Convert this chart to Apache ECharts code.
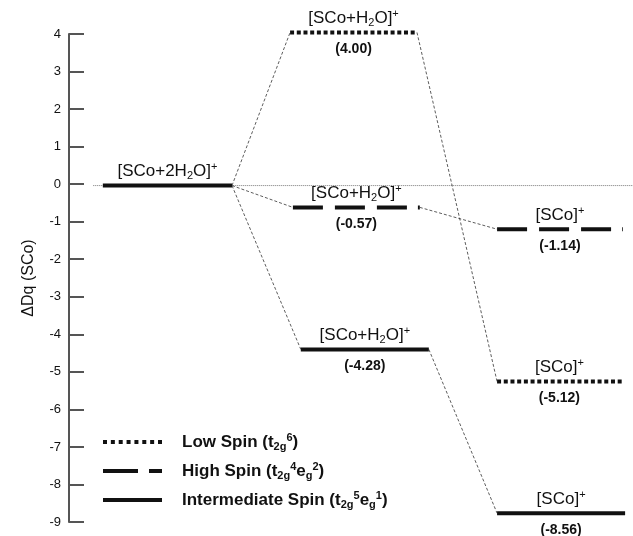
<!DOCTYPE html>
<html>
<head>
<meta charset="utf-8">
<title>ΔDq (SCo)</title>
<script src="https://cdn.jsdelivr.net/npm/echarts@6/dist/echarts.min.js"></script>
<style>
  html, body { margin: 0; padding: 0; background: #fff; }
  #chart { width: 633px; height: 536px; }
</style>
</head>
<body>
<div id="chart"></div>
<script>
  // energy levels
  const levelNames = [
    '[SCo+2H{sub|2}O]{sup|+}',
    '[SCo+H{sub|2}O]{sup|+}',
    '[SCo+H{sub|2}O]{sup|+}',
    '[SCo+H{sub|2}O]{sup|+}',
    '[SCo]{sup|+}',
    '[SCo]{sup|+}',
    '[SCo]{sup|+}',
  ];
  const levelValues = [0, 4.0, -0.57, -4.28, -1.14, -5.12, -8.56];
  const levelShowValue = [false, true, true, true, true, true, true];
  // 0 = low spin, 1 = high spin, 2 = intermediate spin
  const levelSpin = [2, 0, 1, 2, 1, 0, 2];
  // horizontal extent of each level on the 0..100 column scale
  const levelStart = [6.0, 39.2, 39.7, 41.1, 75.9, 75.9, 75.9];
  const levelEnd = [28.9, 61.7, 62.2, 63.8, 98.2, 98.0, 98.6];
  // [from level, to level]
  const links = [[0, 1], [0, 2], [0, 3], [1, 5], [2, 4], [3, 6]];
  const zeroLine = [4.3, 100];

  const spinNames = ['Low Spin', 'High Spin', 'Intermediate Spin'];
  const spinConfigs = ['{sub|2g}{sup|6}', '{sub|2g}{sup|4}e{sub|g}{sup|2}', '{sub|2g}{sup|5}e{sub|g}{sup|1}'];

  // the levels are drawn on a hidden axis: the drawing is not quite to the printed scale
  const levelAxisMin = -8.79;
  const levelAxisMax = 3.96;

  const FONT = '"Liberation Sans", Arial, sans-serif';
  const INK = '#111';

  const spinDash = [[4, 2.7], [30, 12, 30, 12, 30, 11, 3, 200], null];

  const richNormal = {
    sub: { fontSize: 11, fontFamily: FONT, color: INK, lineHeight: 10, verticalAlign: 'bottom' },
    sup: { fontSize: 11, fontFamily: FONT, color: INK, lineHeight: 10, verticalAlign: 'top' },
  };
  const richBold = {
    sub: { fontSize: 11, fontWeight: 'bold', fontFamily: FONT, color: INK, lineHeight: 10, verticalAlign: 'bottom' },
    sup: { fontSize: 11, fontWeight: 'bold', fontFamily: FONT, color: INK, lineHeight: 10, verticalAlign: 'top' },
  };

  const renderLevel = (params, api) => {
    const i = api.value(3);
    const p0 = api.coord([api.value(0), api.value(2)]);
    const p1 = api.coord([api.value(1), api.value(2)]);
    const cx = (p0[0] + p1[0]) / 2;
    const dash = spinDash[levelSpin[i]];
    const children = [
      {
        type: 'line',
        shape: { x1: p0[0], y1: p0[1], x2: p1[0], y2: p1[1] },
        style: { stroke: INK, lineWidth: 4, lineDash: dash, lineCap: 'butt' },
      },
      {
        type: 'text',
        style: {
          text: levelNames[i],
          x: cx,
          y: p0[1] - 14,
          align: 'center',
          verticalAlign: 'middle',
          fontSize: 17,
          fontFamily: FONT,
          fill: INK,
          lineHeight: 20,
          rich: richNormal,
        },
      },
    ];
    if (levelShowValue[i]) {
      children.push({
        type: 'text',
        style: {
          text: '(' + levelValues[i].toFixed(2) + ')',
          x: cx,
          y: p0[1] + 17,
          align: 'center',
          verticalAlign: 'middle',
          fontSize: 14,
          fontWeight: 'bold',
          fontFamily: FONT,
          fill: INK,
        },
      });
    }
    return { type: 'group', children };
  };

  const renderLink = (params, api) => {
    const a = api.coord([api.value(0), api.value(1)]);
    const b = api.coord([api.value(2), api.value(3)]);
    return {
      type: 'line',
      shape: { x1: a[0], y1: a[1], x2: b[0], y2: b[1] },
      style: { stroke: '#333', lineWidth: 0.8, lineDash: [3, 2] },
    };
  };

  const levelSeries = spinNames.map((name, s) => ({
    name,
    type: 'custom',
    yAxisIndex: 1,
    renderItem: renderLevel,
    itemStyle: { color: INK },
    encode: { x: [0, 1], y: 2 },
    z: 3,
    data: levelValues
      .map((v, i) => [levelStart[i], levelEnd[i], v, i])
      .filter((d) => levelSpin[d[3]] === s),
  }));

  // legend icons
  let dots = '';
  for (let k = 0; k < 8; k++) dots += 'M' + (k * 7.86).toFixed(2) + ',0h4v4h-4z';
  const legendIcons = [
    'path://' + dots,
    'path://M0,0h35v4h-35zM46,0h13v4h-13z',
    'path://M0,0h59v4h-59z',
  ];

  const option = {
    animation: false,
    grid: { left: 69, right: 0, top: 34, bottom: 14 },
    xAxis: { type: 'value', min: 0, max: 100, show: false },
    yAxis: [
      {
        type: 'value',
        min: -9,
        max: 4,
        interval: 1,
        name: 'ΔDq (SCo)',
        nameLocation: 'middle',
        nameRotate: 90,
        nameGap: 32,
        nameTextStyle: { fontSize: 16, color: INK, fontFamily: FONT },
        axisLine: { show: true, onZero: false, lineStyle: { color: '#555', width: 2 } },
        axisTick: { show: true, inside: true, length: 15, lineStyle: { color: '#555', width: 2 } },
        axisLabel: { fontSize: 13, color: INK, margin: 8, fontFamily: FONT },
        splitLine: { show: false },
      },
      { type: 'value', min: levelAxisMin, max: levelAxisMax, show: false },
    ],
    legend: {
      orient: 'vertical',
      left: 103,
      top: 432,
      padding: 0,
      itemGap: 9,
      itemWidth: 59,
      itemHeight: 4,
      selectedMode: false,
      data: spinNames.map((name, k) => ({ name, icon: legendIcons[k] })),
      formatter: (name) => name + ' (t' + spinConfigs[spinNames.indexOf(name)] + ')',
      textStyle: {
        fontSize: 17,
        fontWeight: 'bold',
        fontFamily: FONT,
        color: INK,
        lineHeight: 20,
        padding: [0, 0, 0, 15],
        rich: richBold,
      },
    },
    series: [
      {
        name: 'zero',
        type: 'line',
        yAxisIndex: 1,
        symbol: 'none',
        silent: true,
        z: 1,
        lineStyle: { color: '#777', width: 1, type: [1, 1] },
        data: zeroLine.map((x) => [x, 0]),
      },
      {
        name: 'links',
        type: 'custom',
        yAxisIndex: 1,
        renderItem: renderLink,
        silent: true,
        z: 2,
        encode: { x: [0, 2], y: [1, 3] },
        data: links.map(([a, b]) => [levelEnd[a], levelValues[a], levelStart[b], levelValues[b]]),
      },
      ...levelSeries,
    ],
  };

  const chart = echarts.init(document.getElementById('chart'));
  chart.setOption(option);
</script>
</body>
</html>
